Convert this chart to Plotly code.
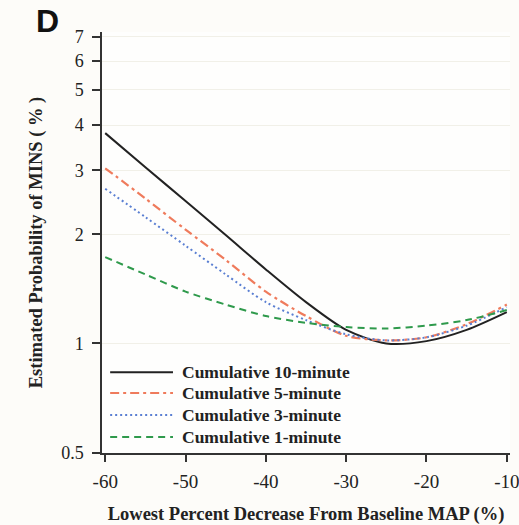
import math
import plotly.graph_objects as go

# ---- data ----
x_vals = [-60, -55, -50, -45, -40, -35, -30, -25, -20, -15, -10]
cum10 = [3.80, 3.06, 2.47, 1.99, 1.60, 1.30, 1.09, 1.00, 1.015, 1.09, 1.22]
cum5 = [3.04, 2.51, 2.06, 1.70, 1.39, 1.19, 1.05, 1.02, 1.04, 1.13, 1.28]
cum3 = [2.67, 2.23, 1.86, 1.55, 1.30, 1.16, 1.06, 1.02, 1.04, 1.12, 1.26]
cum1 = [1.73, 1.55, 1.39, 1.28, 1.19, 1.14, 1.11, 1.10, 1.12, 1.16, 1.236]

series_names = ["Cumulative 10-minute", "Cumulative 5-minute",
                "Cumulative 3-minute", "Cumulative 1-minute"]
x_ticks = [-60, -50, -40, -30, -20, -10]
x_ticktext = ["-60", "-50", "-40", "-30", "-20", "-10"]
y_ticks = [0.5, 1, 2, 3, 4, 5, 6, 7]
y_ticktext = ["0.5", "1", "2", "3", "4", "5", "6", "7"]

styles = [
    dict(color="#222222", width=2, dash="solid"),
    dict(color="#ef7b5c", width=2.2, dash="9px,4px,3px,4px"),
    dict(color="#5a7fd2", width=2, dash="2px,3px"),
    dict(color="#2f9a4c", width=2, dash="7px,5px"),
]

SERIF = "Liberation Serif, Times New Roman, serif"

fig = go.Figure()
for name, ys, st in zip(series_names, [cum10, cum5, cum3, cum1], styles):
    fig.add_trace(go.Scatter(x=x_vals, y=ys, mode="lines", name=name,
                             line=dict(shape="spline", smoothing=0.8, **st),
                             showlegend=False))

# manual legend (line samples + text) in the lower-left of the plot
leg_y = [0.192, 0.1425, 0.090, 0.038]
for name, st, yy in zip(series_names, styles, leg_y):
    fig.add_shape(type="line", xref="paper", yref="paper",
                  x0=0.02, x1=0.174, y0=yy, y1=yy,
                  line=dict(color=st["color"], width=st["width"], dash=st["dash"]))
    fig.add_annotation(xref="paper", yref="paper", x=0.19, y=yy,
                       xanchor="left", yanchor="middle", showarrow=False,
                       text="<b>" + name + "</b>",
                       font=dict(family=SERIF, size=17.5, color="#222222"))

# panel letter
fig.add_annotation(xref="paper", yref="paper", x=-0.134, y=1.025,
                   xanchor="center", yanchor="middle", showarrow=False,
                   text="<b>D</b>",
                   font=dict(family="Liberation Sans, Arial, sans-serif", size=32, color="#111111"))

fig.update_layout(
    width=519, height=525,
    margin=dict(l=102, r=9, t=32, b=72),
    paper_bgcolor="#fdfcf9",
    plot_bgcolor="#fefefd",
    font=dict(family=SERIF, color="#222222"),
    xaxis=dict(
        range=[-60.4, -9.6],
        tickvals=x_ticks, ticktext=x_ticktext,
        ticks="outside", ticklen=7, tickwidth=1.5, tickcolor="#333333",
        showline=True, linecolor="#333333", linewidth=1.5,
        showgrid=False, zeroline=False,
        tickfont=dict(family=SERIF, size=19, color="#222222"),
        ticklabelstandoff=3,
        ticklabeloverflow="allow",
        automargin=False,
        title=dict(text="<b>Lowest Percent Decrease From Baseline MAP (%)</b>",
                   font=dict(family=SERIF, size=18.5, color="#222222"), standoff=20),
    ),
    yaxis=dict(
        type="log",
        range=[math.log10(0.499), math.log10(7.22)],
        tickvals=y_ticks, ticktext=y_ticktext,
        ticks="outside", ticklen=8, tickwidth=1.5, tickcolor="#333333",
        showline=True, linecolor="#333333", linewidth=1.5,
        showgrid=True, gridcolor="#f1f0e8", gridwidth=1,
        zeroline=False,
        tickfont=dict(family=SERIF, size=18, color="#222222"),
        ticklabelstandoff=5,
        automargin=False,
        title=dict(text="<b>Estimated Probability of MINS ( % )</b>",
                   font=dict(family=SERIF, size=18.5, color="#222222"), standoff=14),
    ),
)

fig.write_html("out.html")
